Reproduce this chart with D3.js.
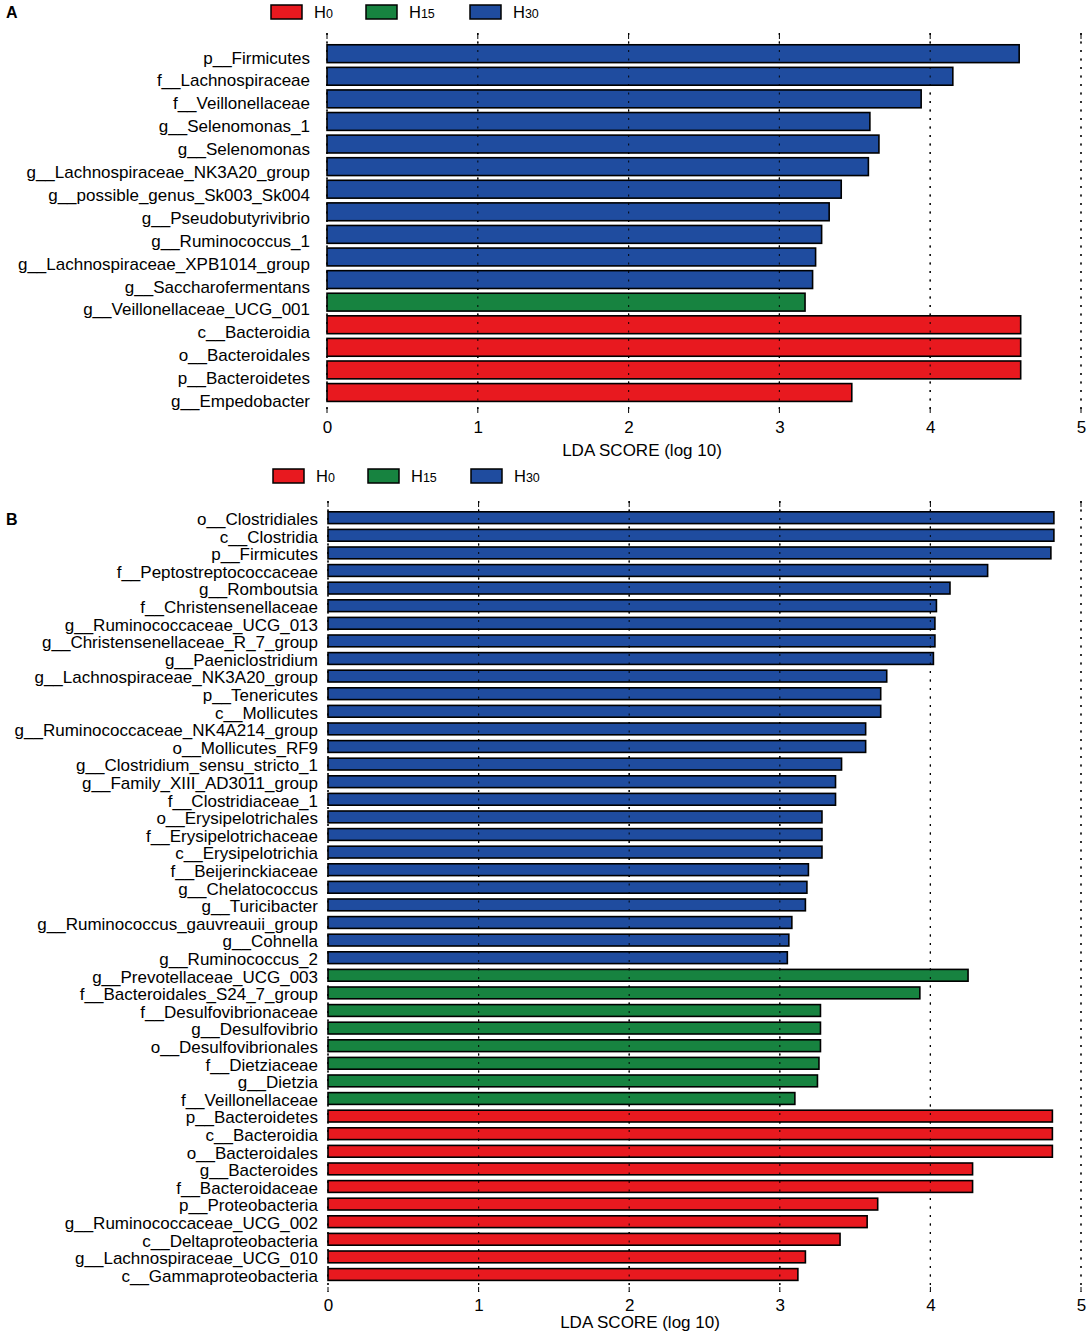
<!DOCTYPE html>
<html><head><meta charset="utf-8">
<script src="https://cdn.jsdelivr.net/npm/d3@7"></script>
<style>
html,body{margin:0;padding:0;background:#fff;}
text{font-family:"Liberation Sans",Arial,sans-serif;}
</style></head>
<body>
<svg id="chart" width="1089" height="1339"></svg>
<script>
// ---------- DATA ----------
const groups = ["H0", "H15", "H30"];
const groupColors = ["#E8191F", "#178340", "#1F4C9F"];
const xTicks = [0, 1, 2, 3, 4, 5];

const labelsA = ["p__Firmicutes","f__Lachnospiraceae","f__Veillonellaceae","g__Selenomonas_1","g__Selenomonas",
  "g__Lachnospiraceae_NK3A20_group","g__possible_genus_Sk003_Sk004","g__Pseudobutyrivibrio","g__Ruminococcus_1",
  "g__Lachnospiraceae_XPB1014_group","g__Saccharofermentans","g__Veillonellaceae_UCG_001","c__Bacteroidia",
  "o__Bacteroidales","p__Bacteroidetes","g__Empedobacter"];
const valuesA = [4.59,4.15,3.94,3.60,3.66,3.59,3.41,3.33,3.28,3.24,3.22,3.17,4.60,4.60,4.60,3.48];
const groupsA = ["H30","H30","H30","H30","H30","H30","H30","H30","H30","H30","H30","H15","H0","H0","H0","H0"];

const labelsB = ["o__Clostridiales","c__Clostridia","p__Firmicutes","f__Peptostreptococcaceae","g__Romboutsia",
  "f__Christensenellaceae","g__Ruminococcaceae_UCG_013","g__Christensenellaceae_R_7_group","g__Paeniclostridium",
  "g__Lachnospiraceae_NK3A20_group","p__Tenericutes","c__Mollicutes","g__Ruminococcaceae_NK4A214_group",
  "o__Mollicutes_RF9","g__Clostridium_sensu_stricto_1","g__Family_XIII_AD3011_group","f__Clostridiaceae_1",
  "o__Erysipelotrichales","f__Erysipelotrichaceae","c__Erysipelotrichia","f__Beijerinckiaceae","g__Chelatococcus",
  "g__Turicibacter","g__Ruminococcus_gauvreauii_group","g__Cohnella","g__Ruminococcus_2",
  "g__Prevotellaceae_UCG_003","f__Bacteroidales_S24_7_group","f__Desulfovibrionaceae","g__Desulfovibrio",
  "o__Desulfovibrionales","f__Dietziaceae","g__Dietzia","f__Veillonellaceae",
  "p__Bacteroidetes","c__Bacteroidia","o__Bacteroidales","g__Bacteroides","f__Bacteroidaceae","p__Proteobacteria",
  "g__Ruminococcaceae_UCG_002","c__Deltaproteobacteria","g__Lachnospiraceae_UCG_010","c__Gammaproteobacteria"];
const valuesB = [4.82,4.82,4.80,4.38,4.13,4.04,4.03,4.03,4.02,3.71,3.67,3.67,3.57,3.57,3.41,3.37,3.37,3.28,3.28,3.28,
  3.19,3.18,3.17,3.08,3.06,3.05,
  4.25,3.93,3.27,3.27,3.27,3.26,3.25,3.10,
  4.81,4.81,4.81,4.28,4.28,3.65,3.58,3.40,3.17,3.12];
const groupsB = [].concat(Array(26).fill("H30"), Array(8).fill("H15"), Array(10).fill("H0"));

// ---------- DRAW ----------
const svg = d3.select("#chart");
const color = d3.scaleOrdinal().domain(groups).range(groupColors);
const FONT = '"Liberation Sans",Arial,sans-serif';

function panel(cfg){
  const g = svg.append("g");
  const x = d3.scaleLinear().domain([0,5]).range([cfg.x0, cfg.x1]);
  const y = d3.scaleBand().domain(cfg.labels).range([cfg.y0, cfg.y1])
    .paddingInner(cfg.pad).paddingOuter(cfg.pad/2);
  const yl = d3.scaleBand().domain(cfg.labels).range(cfg.labelRange);

  // panel letter
  g.append("text").attr("x", 6).attr("y", cfg.letterY).attr("font-size", 16).attr("font-weight", "bold")
    .text(cfg.letter);

  // legend
  const lg = g.append("g");
  groups.forEach((k,i)=>{
    const lx = cfg.legX[i];
    lg.append("rect").attr("x", lx).attr("y", cfg.legY).attr("width", 31).attr("height", 14)
      .attr("fill", color(k)).attr("stroke", "#000").attr("stroke-width", 1.5);
    const t = lg.append("text").attr("x", lx + 43).attr("y", cfg.legY + 13).attr("font-size", 16.5);
    t.append("tspan").text(k[0]);
    t.append("tspan").attr("font-size", 12.5).text(k.slice(1));
  });

  // grid lines
  const grid = g.append("g");
  xTicks.forEach(v=>{
    grid.append("line").attr("x1", x(v)).attr("x2", x(v)).attr("y1", cfg.gTop).attr("y2", cfg.gBot)
      .attr("stroke", "#000").attr("stroke-width", 1.2).attr("stroke-dasharray", "2,6.5");
    grid.append("line").attr("x1", x(v)).attr("x2", x(v)).attr("y1", cfg.gTop).attr("y2", cfg.gTop + 6)
      .attr("stroke", "#000").attr("stroke-width", 1);
    grid.append("line").attr("x1", x(v)).attr("x2", x(v)).attr("y1", cfg.gBot - 5).attr("y2", cfg.gBot)
      .attr("stroke", "#000").attr("stroke-width", 1);
  });

  // bars
  const data = cfg.labels.map((l,i)=>({label:l, value:cfg.values[i], group:cfg.groups[i]}));
  g.append("g").selectAll("rect").data(data).join("rect")
    .attr("x", x(0)).attr("y", d=>y(d.label)).attr("width", d=>x(d.value)-x(0)).attr("height", y.bandwidth())
    .attr("fill", d=>color(d.group)).attr("stroke", "#000").attr("stroke-width", 1.6);

  // dotted grid visible through bars
  xTicks.forEach(v=>{
    g.append("line").attr("x1", x(v)).attr("x2", x(v)).attr("y1", cfg.gTop).attr("y2", cfg.gBot)
      .attr("stroke", "#000").attr("stroke-width", 1.2).attr("stroke-dasharray", "2,6.5").attr("opacity", 0.8);
  });

  // labels
  g.append("g").selectAll("text").data(data).join("text")
    .attr("x", cfg.labelX).attr("y", d=>yl(d.label)+yl.bandwidth()/2).attr("dy", "0.36em")
    .attr("text-anchor", "end").attr("font-size", 17).text(d=>d.label);

  // axis tick labels
  const ax = d3.axisBottom(x).tickValues(xTicks).tickSize(0).tickPadding(0).tickFormat(d3.format("d"));
  const axg = g.append("g").attr("transform", `translate(0,${cfg.tickY})`).call(ax);
  axg.select(".domain").remove();
  axg.selectAll("text").attr("font-size", 17).attr("fill", "#000")
    .attr("font-family", FONT).attr("dy", "0");

  g.append("text").attr("x", cfg.titleX).attr("y", cfg.titleY).attr("text-anchor", "middle")
    .attr("font-size", 17).text("LDA SCORE (log 10)");
}

panel({letter:"A", letterY:18, labels:labelsA, values:valuesA, groups:groupsA,
  x0:327, x1:1081, y0:42.4, y1:403.8, pad:0.21, labelRange:[46, 412.4], gTop:33, gBot:413, labelX:310,
  legX:[271,366,470], legY:5, tickY:433, titleX:642, titleY:456});

panel({letter:"B", letterY:525, labels:labelsB, values:valuesB, groups:groupsB,
  x0:328, x1:1081, y0:508.9, y1:1283.3, pad:0.33, labelRange:[510, 1284.4], gTop:501, gBot:1292, labelX:318,
  legX:[273,368,471], legY:469, tickY:1311, titleX:640, titleY:1328});
</script>
</body></html>
